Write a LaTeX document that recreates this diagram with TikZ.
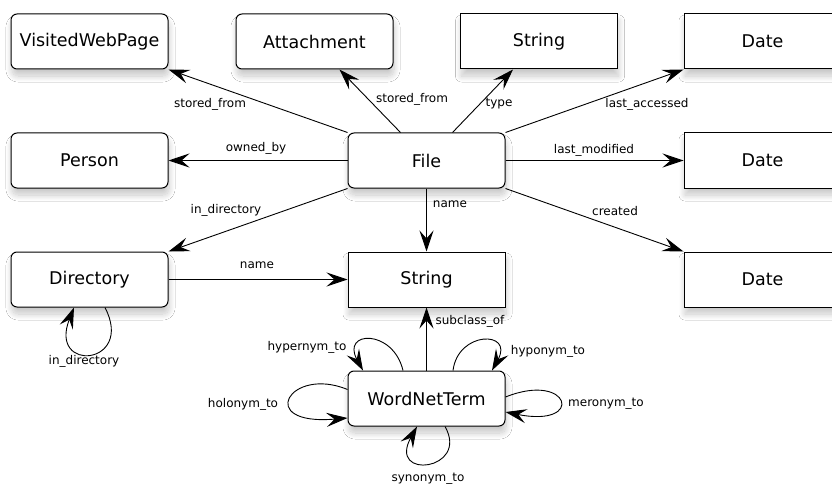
\documentclass[tikz,border=0pt]{standalone}
\usepackage{fontspec}
\setmainfont{DejaVu Sans}
\usetikzlibrary{arrows.meta,calc,shadows.blur}
\tikzset{
  box/.style={draw=black, line width=1pt, fill=white, minimum width=157pt, minimum height=55pt, inner sep=0pt,
     font=\fontsize{17.5}{21}\selectfont,
     blur shadow={shadow xshift=1pt, shadow yshift=-7pt, shadow blur radius=6pt, shadow opacity=22, shadow blur steps=20}},
  rbox/.style={box, rounded corners=6pt},
  conn/.style={line width=0.9pt, -{Stealth[length=21pt,width=14pt,inset=8pt]}},
  lbl/.style={font=\fontsize{12}{14}\selectfont, inner sep=1pt}
}
\begin{document}
\begin{tikzpicture}[x=1pt,y=-1pt]
\useasboundingbox (0,0) rectangle (832,484);
\clip (0,0) rectangle (832,484);
\fill[white] (0,0) rectangle (832,484);
% nodes
\node[rbox] (vwp) at (89.5,41.5) {VisitedWebPage};
\node[rbox] (att) at (314.5,41.5) {Attachment};
\node[box] (strtop) at (539,41.5) {String};
\node[box] (datetop) at (762.5,41.5) {Date};
\node[rbox] (person) at (89.5,160.5) {Person};
\node[rbox] (file) at (426.5,160.5) {File};
\node[box] (datemid) at (762.5,160.5) {Date};
\node[rbox] (dir) at (89.5,279.5) {Directory};
\node[box] (strmid) at (426.5,279.5) {String};
\node[box] (datebot) at (762.5,279.5) {Date};
\node[rbox] (wnt) at (426.5,398.5) {WordNetTerm};
% edges
\draw[conn] (file.north west) -- (vwp.south east);
\draw[conn] ($(file.north)+(-26,0)$) -- ($(att.south)+(25,0)$);
\draw[conn] ($(file.north)+(26,0)$) -- ($(strtop.south)+(-26,0)$);
\draw[conn] (file.north east) -- (datetop.south west);
\draw[conn] (file.west) -- (person.east);
\draw[conn] (file.east) -- (datemid.west);
\draw[conn] (file.south west) -- (dir.north east);
\draw[conn] (file.south) -- (strmid.north);
\draw[conn] (file.south east) -- (datebot.north west);
\draw[conn] (dir.east) -- (strmid.west);
\draw[conn] (wnt.north) -- (strmid.south);
% loops
\draw[conn] ($(dir.south)+(15.5,0)$) .. controls +(30,58) and +(-26,66) .. ($(dir.south)+(-15.5,0)$);
\draw[conn] ($(wnt.north)+(-23.5,0)$) .. controls +(-10,-42) and +(-22,-40) .. ($(wnt.north)+(-63.5,0)$);
\draw[conn] ($(wnt.north)+(26.5,0)$) .. controls +(5,-40) and +(22,-40) .. ($(wnt.north)+(65.5,0)$);
\draw[conn] ($(wnt.west)+(0,-9)$) .. controls +(-58,-24) and +(-93,8) .. ($(wnt.west)+(0,19.5)$);
\draw[conn] ($(wnt.east)+(0,-1.5)$) .. controls +(65,-26) and +(80,16) .. ($(wnt.east)+(0,13.5)$);
\draw[conn] ($(wnt.south)+(18.5,0)$) .. controls +(25,44) and +(-30,54) .. ($(wnt.south)+(-9.5,0)$);
% labels
\node[lbl] (l1) at (210,104) {stored\_from};
\node[lbl] (l2) at (412,99) {stored\_from};
\node[lbl] (l3) at (499,104) {type};
\node[lbl] (l4) at (647,104) {last\_accessed};
\node[lbl] (l5) at (256,148) {owned\_by};
\node[lbl] (l6) at (594,150) {last\_modified};
\node[lbl] (l7) at (226,210) {in\_directory};
\node[lbl] (l8) at (450,204) {name};
\node[lbl] (l9) at (615,211) {created};
\node[lbl] (l10) at (257,265) {name};
\node[lbl] (l11) at (84,361) {in\_directory};
\node[lbl] (l12) at (470,321) {subclass\_of};
\node[lbl] (l13) at (307,347) {hypernym\_to};
\node[lbl] (l14) at (548,351) {hyponym\_to};
\node[lbl] (l15) at (243,404) {holonym\_to};
\node[lbl] (l16) at (606,404) {meronym\_to};
\node[lbl] (l17) at (428,479) {synonym\_to};
\end{tikzpicture}
\end{document}
